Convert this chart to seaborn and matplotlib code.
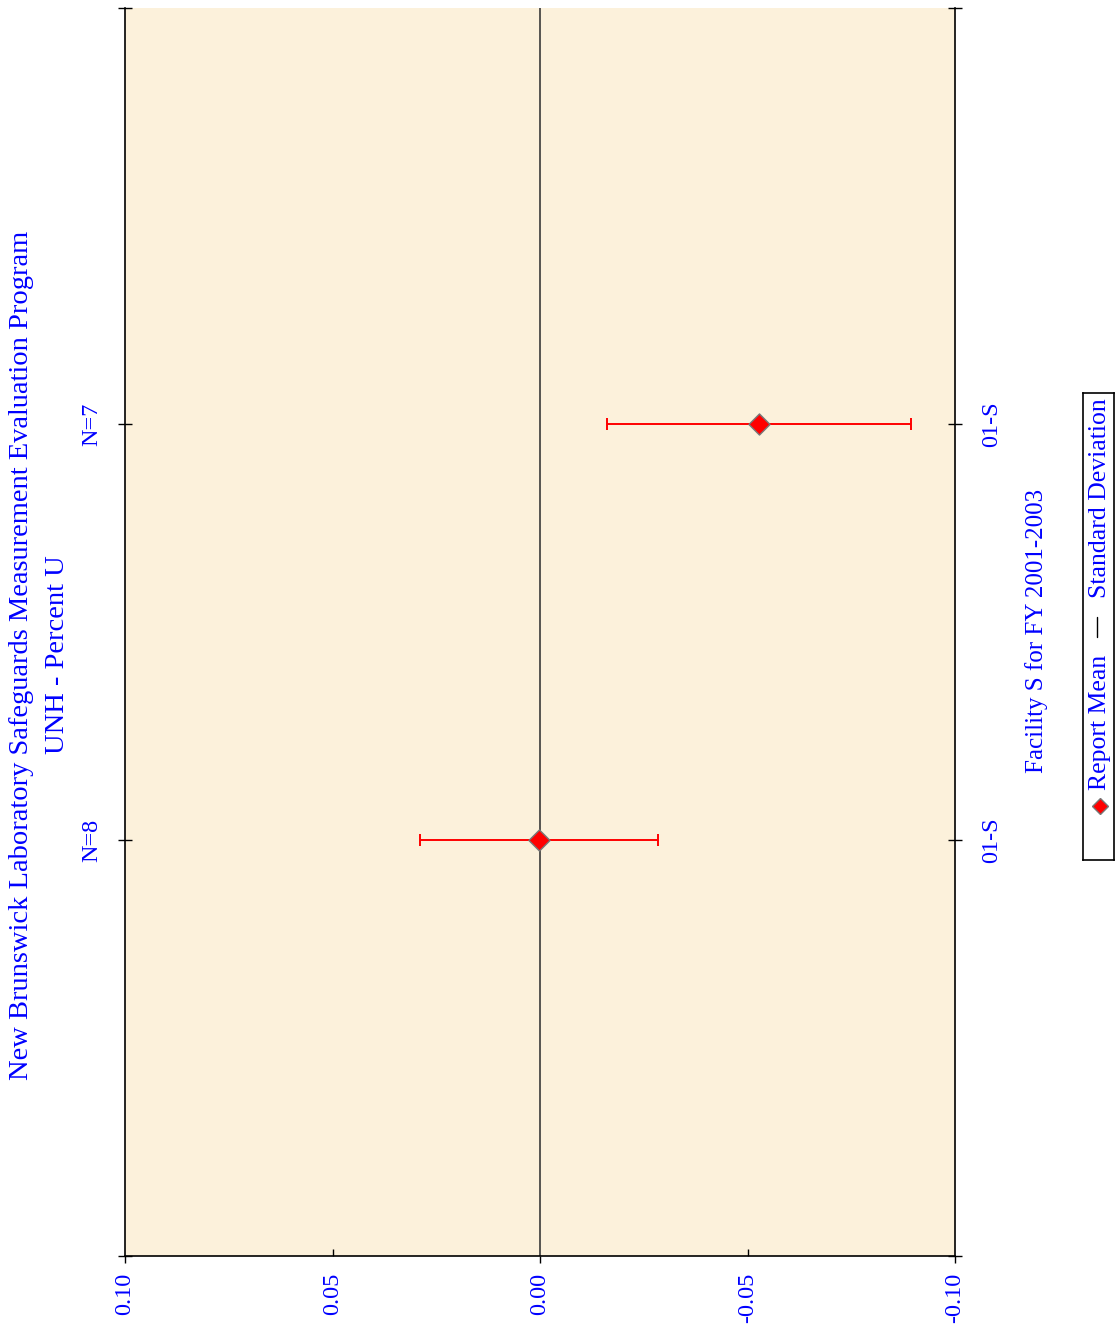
import numpy as np
import pandas as pd
import matplotlib
matplotlib.use("Agg")
import matplotlib.pyplot as plt
import seaborn as sns
from matplotlib.ticker import FixedLocator, FuncFormatter
from matplotlib.lines import Line2D

# Report means and standard deviations per facility/period (Percent U)
facilities = ["01-S", "01-S"]
counts = [8, 7]
means = [0.0002, -0.0528]
sds = [0.0287, 0.0366]
positions = [1, 2]

sns.set_theme(style="white")
plt.rcParams["font.family"] = ["Liberation Serif", "DejaVu Serif"]

BLUE = "#0000FF"
W, H = 1119, 1332
fig = plt.figure(figsize=(W / 100, H / 100), dpi=100)
fig.patch.set_facecolor("white")

ax = fig.add_axes([125 / W, (H - 1256) / H, 830 / W, 1248 / H])
ax.set_facecolor("#FCF1DB")

df = pd.DataFrame({"facility": facilities, "n": counts, "mean": means,
                   "sd": sds, "pos": positions})

# zero reference line
ax.axvline(0.0, color="#3a3a3a", lw=1.2, zorder=1)

# standard deviation bars
ax.errorbar(df["mean"], df["pos"], xerr=df["sd"], fmt="none", ecolor="red",
            elinewidth=1.4, capsize=4.5, capthick=1.4, zorder=2)

# report means
sns.scatterplot(data=df, x="mean", y="pos", marker="D", s=115, color="red",
                edgecolor="#777777", linewidth=1.0, zorder=3, ax=ax, legend=False)

ax.set_xlim(0.10, -0.10)
ax.set_ylim(0, 3)
ax.set_xlabel("")
ax.set_ylabel("")

for side in ["left", "bottom", "right"]:
    ax.spines[side].set_visible(True)
    ax.spines[side].set_color("black")
    ax.spines[side].set_linewidth(1.2)
ax.spines["top"].set_visible(False)

# value axis (horizontal)
fmt = FuncFormatter(lambda v, p: f"{v:.2f}")
ax.xaxis.set_major_locator(FixedLocator([0.10, 0.00, -0.10]))
ax.xaxis.set_minor_locator(FixedLocator([0.05, -0.05]))
ax.xaxis.set_major_formatter(fmt)
ax.xaxis.set_minor_formatter(fmt)
ax.tick_params(axis="x", which="major", direction="out", length=5, width=1,
               color="black", pad=7, labelsize=17.5, labelcolor=BLUE, bottom=True)
ax.tick_params(axis="x", which="minor", direction="in", length=5, width=1,
               color="black", pad=12, labelsize=17.5, labelcolor=BLUE, bottom=True)
for lab in ax.get_xticklabels(which="both"):
    lab.set_rotation(90)
    lab.set_ha("center")
    lab.set_va("top")

# category axis (vertical): counts on the left, facility codes on the right
ax.yaxis.set_major_locator(FixedLocator([0, 1, 2, 3]))
ax.set_yticklabels([""] + [f"N={n}" for n in counts] + [""])
ax.tick_params(axis="y", direction="inout", length=10, width=1, color="black",
               pad=11, labelsize=17.5, labelcolor=BLUE, left=True)
for lab in ax.get_yticklabels():
    lab.set_rotation(90)
    lab.set_va("center")

ax2 = ax.twinx()
ax2.set_ylim(0, 3)
ax2.yaxis.set_major_locator(FixedLocator([0, 1, 2, 3]))
ax2.set_yticklabels([""] + facilities + [""])
ax2.tick_params(axis="y", direction="inout", length=10, width=1, color="black",
                pad=14, labelsize=17.5, labelcolor=BLUE, right=True)
for lab in ax2.get_yticklabels():
    lab.set_rotation(90)
    lab.set_va("center")
for s in ax2.spines.values():
    s.set_visible(False)
ax2.grid(False)
ax.grid(False)

# titles and axis caption
fig.text(22 / W, 1 - 655 / H,
         "New Brunswick Laboratory Safeguards Measurement Evaluation Program",
         rotation=90, ha="center", va="center", fontsize=20.5, color=BLUE)
fig.text(58 / W, 1 - 655 / H, "UNH - Percent U",
         rotation=90, ha="center", va="center", fontsize=20.5, color=BLUE)
fig.text(1037 / W, 1 - 631 / H, "Facility S for FY 2001-2003",
         rotation=90, ha="center", va="center", fontsize=18, color=BLUE)

# legend panel
lax = fig.add_axes([1083 / W, (H - 860) / H, 31 / W, 467 / H])
lax.set_xlim(0, 1)
lax.set_ylim(860, 393)
lax.set_xticks([])
lax.set_yticks([])
lax.set_facecolor("white")
for s in lax.spines.values():
    s.set_visible(True)
    s.set_color("black")
    s.set_linewidth(1.2)
lax.plot([0.55], [806], marker="D", ms=8, color="red", mec="#777777", mew=1.0)
lax.text(0.55, 790, "Report Mean", rotation=90, ha="center", va="bottom",
         fontsize=18.5, color=BLUE)
lax.add_line(Line2D([0.45, 0.45], [637, 617], color="black", lw=1.0))
lax.text(0.55, 398, "Standard Deviation", rotation=90, ha="center", va="top",
         fontsize=18.5, color=BLUE)

fig.savefig("out.png", dpi=100, facecolor="white")
